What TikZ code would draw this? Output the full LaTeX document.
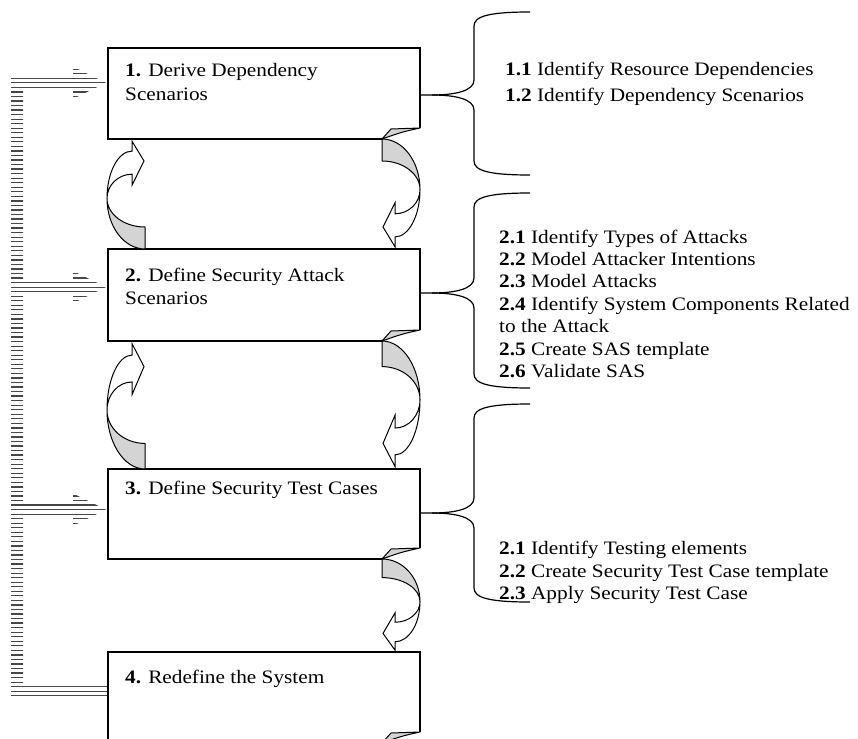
\documentclass[tikz,border=0pt]{standalone}
\usepackage{fontspec}
\setmainfont{Liberation Serif}[FakeStretch=1.12]
\tikzset{
  boxline/.style={line width=1.3pt, line join=miter},
  curlfill/.style={draw, line width=1pt, fill=black!17, line join=round},
  arrline/.style={draw, line width=1pt, line join=miter},
  bracel/.style={draw, line width=1.2pt},
  stripe/.style={line width=1.25pt, draw=black!72},
  txt/.style={anchor=base west, inner sep=0pt, font=\fontsize{19}{22}\selectfont},
}
% right-hand (downward) curved arrow: top point y, height h
\newcommand\downarrowshape[2]{%
  \begin{scope}[shift={(382,-#1)}, yscale=-#2]
    \path[curlfill] (0,0) .. controls (21,0) and (38,0.206) .. (38,0.46)
       .. controls (38,0.3165) and (21,0.2) .. (0,0.2) -- cycle;
    \path[arrline, fill=white] (38,0.46) .. controls (38,0.581) and (26.8,0.68) .. (13,0.68)
       -- (13,0.58) -- (1,0.8) -- (13,0.98) -- (13,0.89)
       .. controls (26.8,0.89) and (38,0.697) .. (38,0.46) -- cycle;
  \end{scope}}
% left-hand (upward) curved arrow: bottom point y, height h
\newcommand\uparrowshape[2]{%
  \begin{scope}[shift={(145,-#1)}, rotate=180, yscale=-#2]
    \path[curlfill] (0,0) .. controls (21,0) and (38,0.206) .. (38,0.46)
       .. controls (38,0.3165) and (21,0.2) .. (0,0.2) -- cycle;
    \path[arrline, fill=white] (38,0.46) .. controls (38,0.581) and (26.8,0.68) .. (13,0.68)
       -- (13,0.58) -- (1,0.8) -- (13,0.98) -- (13,0.89)
       .. controls (26.8,0.89) and (38,0.697) .. (38,0.46) -- cycle;
  \end{scope}}
% process box: top y, bottom y
\newcommand\procbox[2]{%
  \draw[boxline] (382,-#2) -- (108,-#2) -- (108,-#1) -- (420,-#1) -- (420,{-#2+11});
  \path[curlfill] (382,-#2) -- (391,{-#2+10}) -- (420,{-#2+11})
     .. controls (402,{-#2+7}) .. (382,-#2) -- cycle;}
% brace: middle y, top y, bottom y
\newcommand\bracket[3]{%
  \draw[bracel] (420,-#1) -- (432,-#1) .. controls (455,-#1) and (474,{-#1+4}) .. (474,{-#1+15})
     -- (474,{-#2-14}) .. controls (474,{-#2-4}) and (490,-#2) .. (530,-#2);
  \draw[bracel] (432,-#1) .. controls (455,-#1) and (474,{-#1-4}) .. (474,{-#1-15})
     -- (474,{-#3+14}) .. controls (474,{-#3+4}) and (490,-#3) .. (530,-#3);}
\begin{document}
\begin{tikzpicture}[x=1pt,y=1pt]
\useasboundingbox (0,0) rectangle (858,-738);
\clip (0,0) rectangle (858,-738);
\fill[white] (0,0) rectangle (858,-738);

% striped feedback arrow
\begin{scope}
  \def\ca{82.8}\def\cb{287.1}\def\cc{509.6}
  \clip (11,-77) -- (73,-77) -- (73,{-\ca+16.1}) -- (106,-\ca) -- (73,{-\ca-16.1}) -- (73,{-\ca-5.5})
    -- (23,{-\ca-5.5}) -- (23,{-\cb+5.5}) -- (73,{-\cb+5.5}) -- (73,{-\cb+16.1}) -- (106,-\cb)
    -- (73,{-\cb-16.1}) -- (73,{-\cb-5.5}) -- (23,{-\cb-5.5}) -- (23,{-\cc+5.5}) -- (73,{-\cc+5.5})
    -- (73,{-\cc+16.1}) -- (106,-\cc) -- (73,{-\cc-16.1}) -- (73,{-\cc-5.5}) -- (23,{-\cc-5.5})
    -- (23,-684) -- (108,-684) -- (108,-698) -- (11,-698) -- cycle;
  \foreach \k in {-3,...,137} \draw[stripe] (5,{-78.3-4.54*\k}) -- (115,{-78.3-4.54*\k});
\end{scope}

% boxes
\procbox{48}{139}
\procbox{249}{341}
\procbox{469}{559}
\procbox{652}{743}

% curved arrows
\downarrowshape{139}{110}
\uparrowshape{249}{110}
\downarrowshape{341}{128}
\uparrowshape{469}{128}
\downarrowshape{559}{93}

% braces
\bracket{95}{12}{175}
\bracket{293}{193}{388}
\bracket{513}{404}{602}

% box texts
\node[txt] (b1a) at (125,-77) {\textbf{1.} Derive Dependency};
\node[txt] (b1b) at (125,-101) {Scenarios};
\node[txt] (b2a) at (125,-281) {\textbf{2.} Define Security Attack};
\node[txt] (b2b) at (125,-304) {Scenarios};
\node[txt] (b3a) at (125,-494) {\textbf{3.} Define Security Test Cases};
\node[txt] (b4a) at (125,-683) {\textbf{4.} Redefine the System};

% sub-step texts
\node[txt] (s11) at (505,-76) {\textbf{1.1} Identify Resource Dependencies};
\node[txt] (s12) at (505,-102) {\textbf{1.2} Identify Dependency Scenarios};
\node[txt] (s21) at (499,-243) {\textbf{2.1} Identify Types of Attacks};
\node[txt] (s22) at (499,-265) {\textbf{2.2} Model Attacker Intentions};
\node[txt] (s23) at (499,-287) {\textbf{2.3} Model Attacks};
\node[txt] (s24) at (499,-310) {\textbf{2.4} Identify System Components Related};
\node[txt] (s24b) at (499,-332) {to the Attack};
\node[txt] (s25) at (499,-355) {\textbf{2.5} Create SAS template};
\node[txt] (s26) at (499,-377) {\textbf{2.6} Validate SAS};
\node[txt] (s31) at (499,-554) {\textbf{2.1} Identify Testing elements};
\node[txt] (s32) at (499,-577) {\textbf{2.2} Create Security Test Case template};
\node[txt] (s33) at (499,-599) {\textbf{2.3} Apply Security Test Case};
\end{tikzpicture}
\end{document}
